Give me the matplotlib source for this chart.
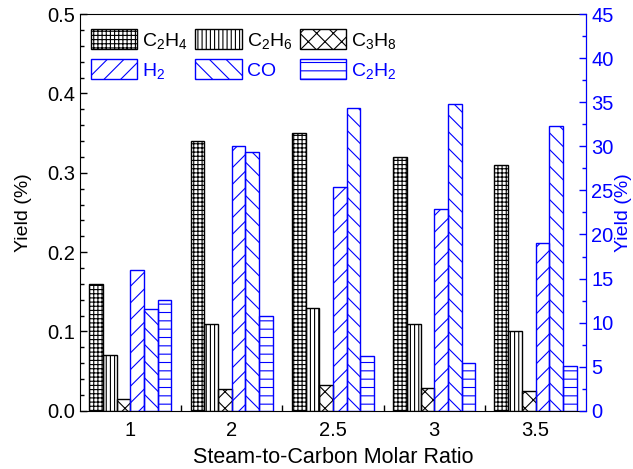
import numpy as np
import matplotlib.pyplot as plt
from matplotlib.ticker import MultipleLocator, FixedLocator

plt.rcParams['font.family'] = ['Liberation Sans', 'DejaVu Sans']
plt.rcParams['mathtext.default'] = 'regular'
plt.rcParams['hatch.linewidth'] = 0.8

ratios = ['1', '2', '2.5', '3', '3.5']

# left axis (black), yield %
c2h4 = [0.16, 0.34, 0.35, 0.32, 0.31]
c2h6 = [0.07, 0.11, 0.13, 0.11, 0.10]
c3h8 = [0.015, 0.027, 0.032, 0.029, 0.025]

# right axis (blue), yield %
h2 = [16.0, 30.0, 25.4, 22.9, 19.0]
co = [11.5, 29.4, 34.4, 34.8, 32.3]
c2h2 = [12.6, 10.7, 6.2, 5.4, 5.1]

BLUE = '#0000ff'

fig = plt.figure(figsize=(6.33, 4.69), dpi=100)
ax = fig.add_axes([0.126, 0.124, 0.800, 0.846])
ax2 = ax.twinx()

x = np.arange(len(ratios))
w = 0.135

series = [
    (ax, c2h4, '++++', 'black', '$C_2H_4$'),
    (ax, c2h6, '||||', 'black', '$C_2H_6$'),
    (ax, c3h8, 'xx', 'black', '$C_3H_8$'),
    (ax2, h2, '//', BLUE, '$H_2$'),
    (ax2, co, '\\\\', BLUE, 'CO'),
    (ax2, c2h2, '--', BLUE, '$C_2H_2$'),
]

handles = []
for k, (a, vals, hatch, col, lab) in enumerate(series):
    b = a.bar(x + (k - 2.5) * w, vals, w, facecolor='none', edgecolor=col,
              hatch=hatch, linewidth=1.0, label=lab)
    handles.append(b)

ax.set_xlim(-0.5, len(ratios) - 0.5)
ax.set_ylim(0, 0.5)
ax2.set_ylim(0, 45)

ax.set_xticks(x)
ax.set_xticklabels(ratios)
ax.xaxis.set_minor_locator(FixedLocator(x[:-1] + 0.5))
ax.tick_params(axis='x', which='major', length=0, labelsize=14.5, pad=7)
ax.tick_params(axis='x', which='minor', direction='in', length=4, width=1)

ax.yaxis.set_major_locator(MultipleLocator(0.1))
ax.yaxis.set_minor_locator(MultipleLocator(0.02))
ax.set_yticklabels([f'{v:.1f}' for v in ax.get_yticks()])
ax.tick_params(axis='y', which='major', direction='in', length=5, width=1, labelsize=14.5)
ax.tick_params(axis='y', which='minor', direction='in', length=3, width=1)

ax2.yaxis.set_major_locator(MultipleLocator(5))
ax2.yaxis.set_minor_locator(MultipleLocator(2.5))
ax2.tick_params(axis='y', which='major', direction='in', length=5, width=1,
                labelsize=14.5, colors=BLUE)
ax2.tick_params(axis='y', which='minor', direction='in', length=3, width=1, colors=BLUE)
ax2.spines['right'].set_color(BLUE)
ax2.spines['left'].set_visible(False)
ax2.spines['top'].set_visible(False)
ax2.spines['bottom'].set_visible(False)

ax.set_xlabel('Steam-to-Carbon Molar Ratio', fontsize=15.5, labelpad=5)
ax.set_ylabel('Yield (%)', fontsize=14, labelpad=11)
ax2.set_ylabel('Yield (%)', fontsize=14, color=BLUE, labelpad=1)

order = [0, 3, 1, 4, 2, 5]
leg = ax2.legend([handles[i] for i in order], [series[i][4] for i in order],
                 ncol=3, loc='upper left', bbox_to_anchor=(0.0, 0.99),
                 frameon=False, fontsize=14, handlelength=2.37, handleheight=1.2,
                 handletextpad=0.26, columnspacing=0.4, labelspacing=0.45,
                 borderaxespad=0.17)
for t, i in zip(leg.get_texts(), order):
    t.set_color(series[i][3])

fig.savefig('out.png', dpi=100)
